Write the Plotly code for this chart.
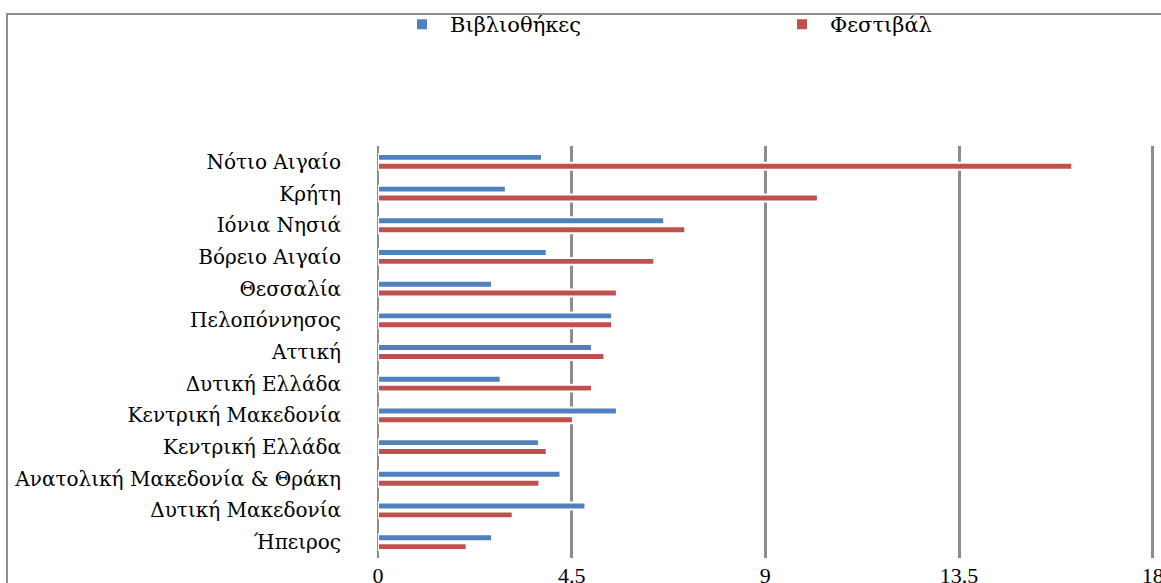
import plotly.graph_objects as go

# Regions, listed top to bottom as they appear on the chart
regions = [
    "Νότιο Αιγαίο", "Κρήτη", "Ιόνια Νησιά", "Βόρειο Αιγαίο", "Θεσσαλία",
    "Πελοπόννησος", "Αττική", "Δυτική Ελλάδα", "Κεντρική Μακεδονία",
    "Κεντρική Ελλάδα", "Ανατολική Μακεδονία & Θράκη", "Δυτική Μακεδονία", "Ήπειρος",
]
libraries = [3.81, 2.97, 6.65, 3.92, 2.65, 5.44, 4.97, 2.85, 5.55, 3.74, 4.24, 4.82, 2.65]
festivals = [16.13, 10.22, 7.14, 6.42, 5.55, 5.44, 5.26, 4.97, 4.53, 3.92, 3.75, 3.13, 2.06]
x_ticks = [0, 4.5, 9, 13.5, 18]
x_tick_text = ["0", "4.5", "9", "13.5", "18"]

BLUE = "#4f81bd"
RED = "#c0504d"
GRID = "#8c8c8c"
GREEK_FONT = "DejaVu Serif"
NUM_FONT = "Liberation Serif"

fig = go.Figure()
fig.add_trace(go.Bar(
    y=regions, x=libraries, name="Βιβλιοθήκες", orientation="h",
    marker=dict(color=BLUE, line=dict(color="white", width=2)),
    legend="legend",
))
fig.add_trace(go.Bar(
    y=regions, x=festivals, name="Φεστιβάλ", orientation="h",
    marker=dict(color=RED, line=dict(color="white", width=2)),
    legend="legend2",
))

W, H = 1161, 583
L, R, T, B = 378, 4, 146, 25
pw, ph = W - L - R, H - T - B
x_max = 18.1  # a little past 18 so the last gridline stays inside the plot


def px_x(p):
    return (p - L) / pw


def px_y(p):
    return 1 + (T - p) / ph


legend_common = dict(
    orientation="h", xanchor="left", yanchor="top", y=px_y(4),
    font=dict(family=GREEK_FONT, size=21, color="black"),
    itemwidth=46, bgcolor="rgba(0,0,0,0)",
)

fig.update_layout(
    width=W, height=H,
    margin=dict(l=L, r=R, t=T, b=B, autoexpand=False),
    paper_bgcolor="white", plot_bgcolor="white",
    barmode="group", bargap=0.44, bargroupgap=0.22,
    font=dict(family=GREEK_FONT, size=20, color="black"),
    showlegend=True,
    legend=dict(x=px_x(394), **legend_common),
    legend2=dict(x=px_x(774), **legend_common),
    xaxis=dict(
        range=[0, x_max], tickvals=x_ticks, ticktext=x_tick_text,
        showgrid=True, gridcolor=GRID, gridwidth=3,
        zeroline=True, zerolinecolor=GRID, zerolinewidth=2,
        showline=False, ticks="", automargin=False,
        ticklabelstandoff=2, ticklabeloverflow="allow",
        tickfont=dict(family=NUM_FONT, size=22, color="black"),
    ),
    yaxis=dict(
        categoryorder="array", categoryarray=regions, autorange="reversed",
        showgrid=False, zeroline=False, showline=False, ticks="",
        ticklabelstandoff=36, automargin=False,
        tickfont=dict(family=GREEK_FONT, size=20, color="black"),
    ),
    shapes=[dict(
        type="rect", xref="paper", yref="paper",
        x0=px_x(7), x1=px_x(W + 5),
        y0=-0.3, y1=px_y(14),
        line=dict(color="#8f8f8f", width=2), fillcolor="rgba(0,0,0,0)",
        layer="below",
    )],
)

fig.write_html("out.html")
